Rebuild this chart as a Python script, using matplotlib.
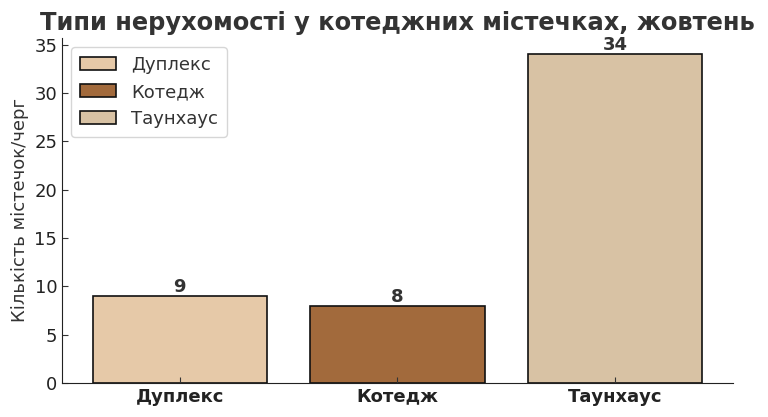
import matplotlib
matplotlib.use("Agg")
import matplotlib.pyplot as plt

# Дані
categories = ["Дуплекс", "Котедж", "Таунхаус"]
counts = [9, 8, 34]
colors = ["#E6C9A8", "#A26A3C", "#D8C2A4"]

plt.rcParams['font.family'] = ['DejaVu Sans']

fig = plt.figure(figsize=(7.68, 4.17), dpi=100)
ax = fig.add_axes([0.081, 0.082, 0.873, 0.827])

bars = ax.bar(categories, counts, color=colors, edgecolor="#111111", linewidth=1.2,
              label=categories, width=0.8)

for b, v in zip(bars, counts):
    ax.text(b.get_x() + b.get_width() / 2, v, str(v), ha="center", va="bottom",
            fontsize=13, fontweight="bold", color="#333333")

ax.set_title("Типи нерухомості у котеджних містечках, жовтень", fontsize=17.4,
             fontweight="bold", color="#333333", pad=6)
ax.set_ylabel("Кількість містечок/черг", fontsize=13, color="#333333")
ax.set_yticks(range(0, 36, 5))
ax.tick_params(axis="both", direction="in", labelsize=13, colors="#333333", length=4)
ax.tick_params(axis="y", labelcolor="#222222")
for lbl in ax.get_xticklabels():
    lbl.set_fontweight("bold")
    lbl.set_color("#222222")

ax.spines["top"].set_visible(False)
ax.spines["right"].set_visible(False)
ax.spines["left"].set_color("#222222")
ax.spines["bottom"].set_color("#222222")

ax.legend(loc="upper left", fontsize=13, frameon=True, labelcolor="#333333",
          handlelength=2, borderpad=0.5)

fig.savefig("out.png", dpi=100)
